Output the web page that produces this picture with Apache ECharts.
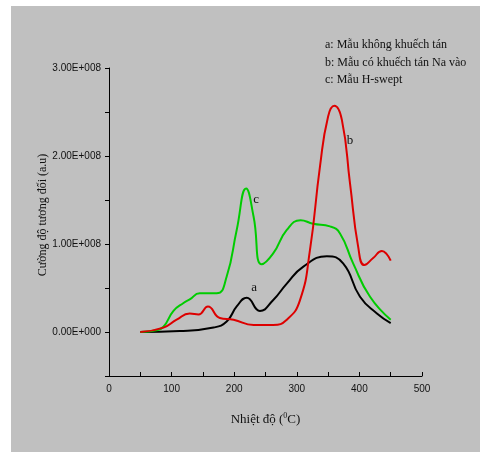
<!DOCTYPE html>
<html><head><meta charset="utf-8">
<script src="https://cdn.jsdelivr.net/npm/echarts@6/dist/echarts.min.js"></script>
<style>
html,body{margin:0;padding:0;background:#fff;}
#wrap{position:relative;width:480px;height:452px;}
#bg{position:absolute;left:11px;top:6px;width:469px;height:446px;background:#c0c0c0;}
#chart{position:absolute;left:0;top:0;width:480px;height:452px;}
</style></head>
<body><div id="wrap"><div id="bg"></div><div id="chart"></div></div>
<script>
// Temperature (°C) and relative intensity (a.u.)
var seriesA_x = [50, 113, 167, 188, 204, 220, 241, 262, 284, 310, 348, 374, 401, 428, 450];
var seriesA_y = [0, 0.01e8, 0.05e8, 0.12e8, 0.29e8, 0.39e8, 0.24e8, 0.36e8, 0.55e8, 0.74e8, 0.86e8, 0.78e8, 0.40e8, 0.21e8, 0.10e8];

var seriesB_x = [50, 87, 108, 129, 143, 158, 177, 199, 231, 262, 284, 305, 321, 337, 350, 360, 372, 385, 398, 408, 422, 436, 443, 450];
var seriesB_y = [0, 0.05e8, 0.14e8, 0.21e8, 0.20e8, 0.29e8, 0.16e8, 0.14e8, 0.08e8, 0.08e8, 0.14e8, 0.36e8, 0.93e8, 1.88e8, 2.45e8, 2.57e8, 2.41e8, 1.69e8, 0.97e8, 0.76e8, 0.84e8, 0.92e8, 0.89e8, 0.81e8];

var seriesC_x = [50, 76, 87, 103, 119, 129, 145, 172, 188, 204, 219, 231, 244, 262, 284, 306, 326, 353, 369, 390, 417, 450];
var seriesC_y = [0, 0.02e8, 0.06e8, 0.24e8, 0.33e8, 0.37e8, 0.44e8, 0.44e8, 0.63e8, 1.16e8, 1.63e8, 1.31e8, 0.77e8, 0.89e8, 1.16e8, 1.27e8, 1.23e8, 1.20e8, 1.12e8, 0.78e8, 0.40e8, 0.14e8];

var curveNames = ['a', 'b', 'c'];
var curveLabelPos = [[232, 0.50e8], [385, 2.18e8], [235, 1.50e8]];
var legendLines = ['a: Mẫu không khuếch tán', 'b: Mẫu có khuếch tán Na vào', 'c: Mẫu H-swept'];
var yTickLabels = ['0.00E+000', '1.00E+008', '2.00E+008', '3.00E+008'];
var xTickLabels = ['0', '100', '200', '300', '400', '500'];
var xAxisTitle = 'Nhiệt độ (';
var yAxisTitle = 'Cường độ tương đối (a.u)';

function zip(xs, ys) { return xs.map(function (x, i) { return [x, ys[i]]; }); }

var colors = ['#000000', '#dd0000', '#00cc00'];
var datas = [zip(seriesA_x, seriesA_y), zip(seriesB_x, seriesB_y), zip(seriesC_x, seriesC_y)];

var chart = echarts.init(document.getElementById('chart'));
var series = datas.map(function (d, i) {
  return {
    type: 'line', data: d, smooth: 0.5, showSymbol: false, symbol: 'none',
    lineStyle: { color: colors[i], width: 2 },
    z: i === 1 ? 3 : 2,
    markPoint: {
      symbol: 'circle', symbolSize: 0,
      label: { show: true, formatter: curveNames[i], color: '#111', fontFamily: 'Liberation Serif', fontSize: 13, position: 'inside' },
      data: [{ coord: curveLabelPos[i] }]
    }
  };
});

chart.setOption({
  animation: false,
  backgroundColor: 'transparent',
  grid: { left: 109, right: 58, top: 68, bottom: 76, containLabel: false },
  xAxis: {
    type: 'value', min: 0, max: 500, interval: 50,
    axisLine: { show: true, onZero: false, lineStyle: { color: '#000', width: 1 } },
    axisTick: { show: true, inside: true, length: 4, lineStyle: { color: '#000' } },
    splitLine: { show: false },
    axisLabel: {
      color: '#111', fontFamily: 'Liberation Sans', fontSize: 10, margin: 8,
      formatter: function (v) { return v % 100 === 0 ? xTickLabels[v / 100] : ''; }
    },
    name: '{t|' + xAxisTitle + '}{s|0}{t|C)}', nameLocation: 'middle', nameGap: 36,
    nameTextStyle: {
      rich: {
        t: { fontFamily: 'Liberation Serif', fontSize: 13, color: '#111' },
        s: { fontFamily: 'Liberation Serif', fontSize: 8, color: '#111', verticalAlign: 'top', padding: [0, 0, 8, 0] }
      }
    }
  },
  yAxis: {
    type: 'value', min: -0.5e8, max: 3e8, interval: 0.5e8,
    axisLine: { show: true, onZero: false, lineStyle: { color: '#000', width: 1 } },
    axisTick: { show: true, inside: false, length: 4, lineStyle: { color: '#000' } },
    splitLine: { show: false },
    axisLabel: {
      color: '#111', fontFamily: 'Liberation Sans', fontSize: 10, margin: 8,
      formatter: function (v) {
        var k = Math.round(v / 1e8 * 2);
        return (k >= 0 && k % 2 === 0) ? yTickLabels[k / 2] : '';
      }
    },
    name: yAxisTitle, nameLocation: 'middle', nameGap: 60, nameRotate: 90, nameMoveOverlap: false,
    nameTextStyle: { fontFamily: 'Liberation Serif', fontSize: 12, color: '#111', padding: [0, 0, 0, 14] }
  },
  graphic: legendLines.map(function (t, i) {
    return { type: 'text', left: 325, top: 39 + i * 17.5, style: { text: t, font: '12px "Liberation Serif"', fill: '#111' } };
  }),
  series: series
});
</script></body></html>
